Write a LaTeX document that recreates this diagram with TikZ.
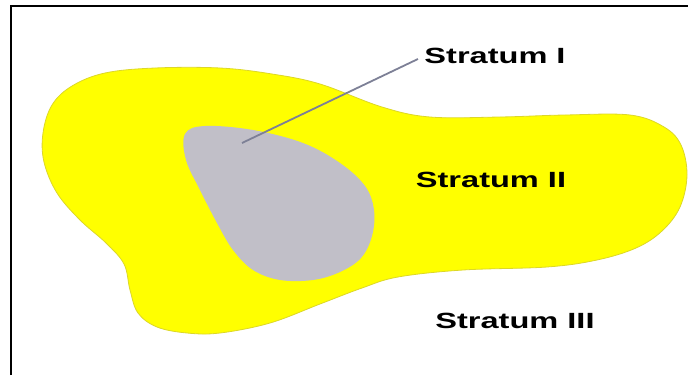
\documentclass[tikz,border=0pt]{standalone}
\usepackage{fontspec}
\usepackage{graphicx}
\usepackage{xcolor}
\usepackage{tikz}
\newfontfamily\stratfont{Liberation Sans}

\definecolor{stratyellow}{RGB}{255,255,0}
\definecolor{stratedge}{RGB}{220,215,40}
\definecolor{stratgray}{RGB}{193,191,200}
\definecolor{pointer}{RGB}{125,128,150}

\newcommand{\stratname}[1]{\scalebox{1.48}[1]{\stratfont\bfseries\fontsize{22}{26}\selectfont #1}}

\begin{document}
\begin{tikzpicture}[
            x=1pt, y=-1pt,
            region/.style={line width=0.8pt, line join=round},
            stratlabel/.style={inner sep=0pt, text=black},
            arrow/.style={draw=pointer, line width=1.8pt, shorten >=7pt}
        ]
        \useasboundingbox (0,0) rectangle (688,375);

        % Frame
        \draw[line width=2pt] (10.5,375) |- (688,6);

        % Stratum II
        \draw[region, fill=stratyellow, draw=stratedge] plot[smooth cycle, tension=0.6] coordinates {
            (43,133) (52,105) (72,86) (105,73) (155,68) (220,68) (272,74) (320,84)
            (382,107) (430,117) (500,117) (565,115) (630,115) (664,127) (681,145)
            (687,175) (680,207) (662,231) (636,248) (597,260) (547,267) (463,270)
            (398,277) (362,288) (320,304) (270,323) (220,333) (187,333) (157,327)
            (138,313) (130,290) (124,264) (106,243) (80,220) (57,193) (44,162)};

        % Stratum I
        \fill[stratgray] plot[smooth cycle, tension=0.6] coordinates {
            (185,134) (205,126) (253,130) (303,143) (340,163) (365,186) (374,210)
            (372,236) (361,258) (340,272) (313,280) (280,280) (253,270) (233,250)
            (217,223) (200,190) (186,160)};

        % Labels
        \node[stratlabel] (s1) at (495,56) {\stratname{Stratum I}};
        \node[stratlabel] (s2) at (491,180) {\stratname{Stratum II}};
        \node[stratlabel] (s3) at (515,321) {\stratname{Stratum III}};

        % Pointer
        \coordinate (core) at (242,143);
        \draw[arrow] (core) -- (s1.west);

        \end{tikzpicture}
\end{document}
